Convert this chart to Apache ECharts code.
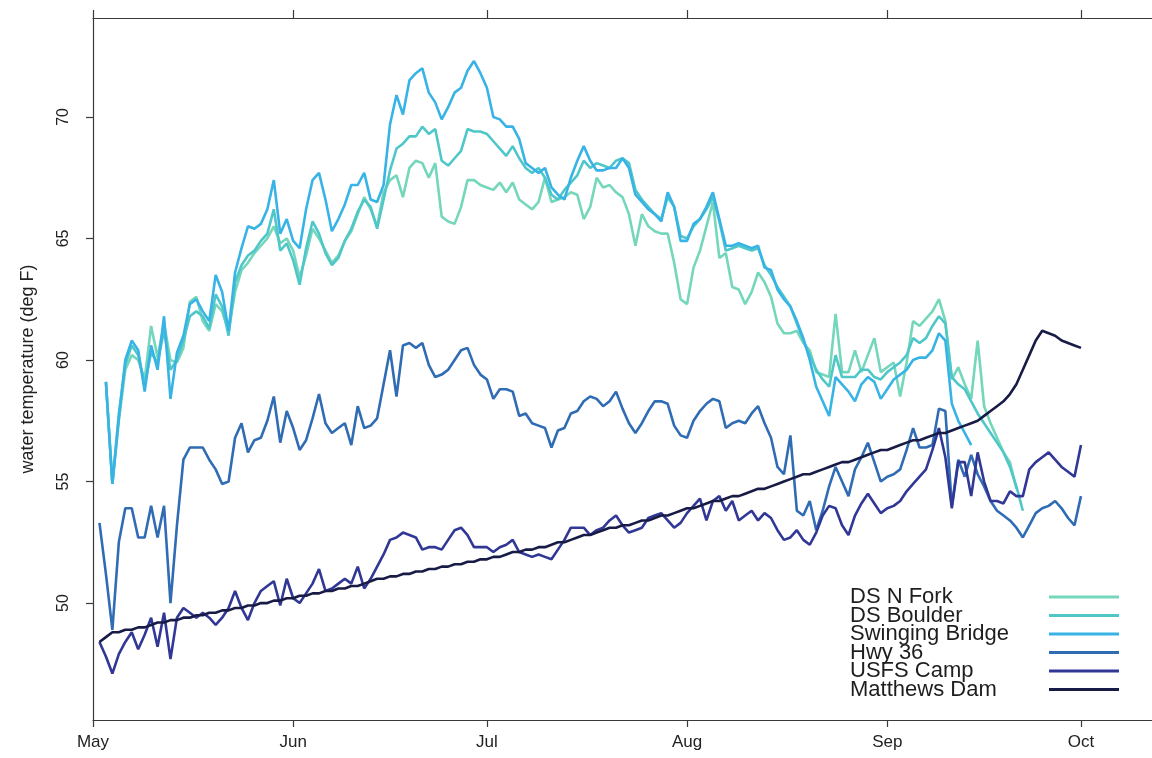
<!DOCTYPE html>
<html><head><meta charset="utf-8">
<script src="https://cdn.jsdelivr.net/npm/echarts@6/dist/echarts.min.js"></script>
<style>html,body{margin:0;padding:0;background:#fff}#c{width:1152px;height:758px}</style>
</head><body><div id="c"></div>
<script>
const monthLabels = ['May','Jun','Jul','Aug','Sep','Oct'];
const seriesNames = ['DS N Fork','DS Boulder','Swinging Bridge','Hwy 36','USFS Camp','Matthews Dam'];
const seriesColors = ['#74d6ba','#4fc7c9','#38b3e6','#2f6cb4','#303795','#181b46'];
const yTicks = [50,55,60,65,70];

// day index 0 = May 1
const nfStart = 2;
const nfValues = [59.1,54.9,57.5,59.6,60.2,60.0,59.2,61.4,
 60.1,61.5,60.0,59.9,60.5,62.4,62.6,61.6,61.2,62.3,
 62.0,61.2,62.8,63.7,64.0,64.4,64.7,65.0,65.5,64.8,
 65.0,64.5,63.4,64.3,65.4,65.0,64.5,64.0,64.3,64.9,
 65.3,66.0,66.7,66.2,65.5,66.9,67.4,67.6,66.7,67.9,
 68.2,68.1,67.5,68.1,65.9,65.7,65.6,66.3,67.4,67.4,
 67.2,67.1,67.0,67.3,66.9,67.3,66.6,66.4,66.2,66.5,
 67.5,66.5,66.6,66.7,66.9,66.8,65.8,66.3,67.5,67.1,
 67.2,66.9,66.7,66.0,64.7,66.0,65.5,65.3,65.2,65.2,
 64.0,62.5,62.3,63.8,64.5,65.5,66.5,64.2,64.4,63.0,
 62.9,62.3,62.8,63.6,63.2,62.6,61.5,61.1,61.1,61.2,
 60.7,60.4,59.5,59.4,59.3,61.9,59.5,59.5,60.4,59.5,
 60.2,60.9,59.5,59.7,59.9,58.5,59.9,61.6,61.4,61.7,
 62.0,62.5,61.6,59.2,59.7,59.0,58.4,60.8,58.1,57.4,
 56.8,56.2,55.8,54.7];

const dbStart = 2;
const dbValues = [59.1,54.9,57.8,59.8,60.6,60.2,59.0,60.3,
 59.9,61.2,59.6,60.0,60.8,61.8,62.0,61.8,61.3,62.7,
 62.2,61.0,63.2,63.9,64.3,64.5,64.9,65.2,66.2,64.5,
 64.8,64.1,63.1,64.6,65.7,65.2,64.4,63.9,64.2,64.9,
 65.4,66.1,66.6,66.3,65.4,66.6,67.8,68.7,68.9,69.2,
 69.2,69.6,69.3,69.5,68.2,68.0,68.3,68.6,69.5,69.4,
 69.4,69.3,69.0,68.7,68.4,68.8,68.3,67.9,67.7,67.9,
 67.5,66.8,66.6,67.0,67.3,67.6,68.2,67.9,68.1,68.0,
 67.9,68.2,68.3,68.1,67.0,66.6,66.3,66.0,65.8,66.7,
 66.3,65.1,65.0,65.5,65.8,66.2,66.7,65.7,64.5,64.6,
 64.7,64.6,64.5,64.6,63.9,63.5,63.0,62.6,62.2,61.5,
 60.8,60.2,59.6,59.2,58.9,60.2,59.3,59.3,59.3,59.6,
 59.6,59.3,59.2,59.5,59.7,59.9,60.2,60.9,60.7,60.9,
 61.4,61.8,61.5,59.3,59.0,58.8,58.3,57.8,57.4,57.0,
 56.6,56.2,55.6,54.8,53.8];

const sbStart = 2;
const sbValues = [59.1,54.9,57.6,60.0,60.8,60.4,58.7,60.6,
 59.6,61.8,58.4,60.3,61.0,62.3,62.5,62.0,61.6,63.5,
 62.8,61.2,63.6,64.6,65.5,65.4,65.6,66.2,67.4,65.2,
 65.8,64.9,64.6,66.2,67.4,67.7,66.6,65.3,65.8,66.4,
 67.2,67.2,67.7,66.6,66.5,67.2,69.7,70.9,70.1,71.5,
 71.8,72.0,71.0,70.6,69.9,70.4,71.0,71.2,71.9,72.3,
 71.8,71.2,70.0,69.9,69.6,69.6,69.1,68.1,67.9,67.7,
 67.9,67.1,66.8,66.6,67.5,68.2,68.8,68.2,67.8,67.8,
 67.9,67.9,68.3,67.9,66.8,66.5,66.2,66.0,65.7,66.9,
 66.3,64.9,64.9,65.6,65.8,66.3,66.9,65.8,64.7,64.7,
 64.8,64.7,64.6,64.7,63.8,63.7,62.9,62.5,62.2,61.6,
 60.9,60.0,58.9,58.3,57.7,59.3,59.0,58.7,58.3,59.0,
 59.3,59.1,58.4,58.8,59.2,59.4,59.6,60.0,60.1,60.1,
 60.4,61.1,60.8,58.2,57.5,57.0,56.5];

const hwyStart = 1;
const hwyValues = [53.3,51.2,48.9,52.5,53.9,53.9,52.7,52.7,54.0,
 52.7,54.0,50.0,53.2,55.9,56.4,56.4,56.4,55.9,55.5,
 54.9,55.0,56.8,57.4,56.2,56.7,56.8,57.5,58.5,56.6,
 57.9,57.2,56.3,56.7,57.6,58.6,57.4,57.0,57.2,57.4,
 56.5,58.1,57.2,57.3,57.6,59.0,60.4,58.5,60.6,60.7,
 60.5,60.7,59.8,59.3,59.4,59.6,60.0,60.4,60.5,59.8,
 59.4,59.2,58.4,58.8,58.8,58.7,57.7,57.8,57.4,57.3,
 57.2,56.4,57.1,57.2,57.8,57.9,58.3,58.5,58.4,58.1,
 58.3,58.7,58.0,57.4,57.0,57.4,57.9,58.3,58.3,58.2,
 57.3,56.9,56.8,57.5,57.9,58.2,58.4,58.3,57.2,57.4,
 57.5,57.4,57.8,58.1,57.4,56.8,55.6,55.3,56.9,53.8,
 53.6,54.2,53.0,53.8,54.8,55.6,55.0,54.4,55.5,56.0,
 56.6,55.8,55.0,55.2,55.3,55.5,56.3,57.2,56.4,56.4,
 56.5,58.0,57.9,54.0,55.9,55.2,56.1,55.3,54.8,54.2,
 53.8,53.6,53.4,53.1,52.7,53.2,53.7,53.9,54.0,54.2,
 53.9,53.5,53.2,54.4];

const usfsStart = 1;
const usfsValues = [48.4,47.8,47.1,47.9,48.4,48.8,48.1,48.7,49.4,
 48.2,49.6,47.7,49.4,49.8,49.6,49.4,49.6,49.4,49.1,
 49.4,49.8,50.5,49.8,49.3,50.0,50.5,50.7,50.9,49.9,
 51.0,50.2,50.0,50.4,50.8,51.4,50.5,50.6,50.8,51.0,
 50.8,51.5,50.6,51.0,51.5,52.0,52.6,52.7,52.9,52.8,
 52.7,52.2,52.3,52.3,52.2,52.6,53.0,53.1,52.8,52.3,
 52.3,52.3,52.1,52.3,52.4,52.6,52.1,52.0,51.9,52.0,
 51.9,51.8,52.2,52.6,53.1,53.1,53.1,52.8,53.0,53.1,
 53.4,53.6,53.2,52.9,53.0,53.1,53.5,53.6,53.7,53.4,
 53.1,53.3,53.7,54.0,54.3,53.4,54.2,54.4,53.8,54.2,
 53.4,53.6,53.8,53.4,53.7,53.5,53.0,52.6,52.7,53.0,
 52.6,52.4,52.9,53.6,54.0,53.9,53.2,52.8,53.6,54.1,
 54.5,54.1,53.7,53.9,54.0,54.2,54.6,54.9,55.2,55.5,
 56.3,57.2,56.0,53.9,55.8,55.8,54.4,56.2,55.0,54.2,
 54.2,54.1,54.6,54.4,54.4,55.5,55.8,56.0,56.2,55.9,
 55.6,55.4,55.2,56.5];

const damStart = 1;
const damValues = [48.4,48.6,48.8,48.8,48.9,48.9,49.0,49.0,49.1,
 49.2,49.2,49.3,49.3,49.4,49.4,49.5,49.5,49.6,49.6,
 49.7,49.7,49.8,49.8,49.9,49.9,50.0,50.0,50.1,50.1,
 50.2,50.2,50.3,50.3,50.4,50.4,50.5,50.5,50.6,50.6,
 50.7,50.7,50.8,50.9,51.0,51.0,51.1,51.1,51.2,51.2,
 51.3,51.3,51.4,51.4,51.5,51.5,51.6,51.6,51.7,51.7,
 51.8,51.8,51.9,51.9,52.0,52.1,52.1,52.2,52.2,52.3,
 52.3,52.4,52.5,52.5,52.6,52.7,52.8,52.8,52.9,53.0,
 53.1,53.1,53.2,53.2,53.3,53.4,53.4,53.5,53.6,53.6,
 53.7,53.8,53.9,53.9,54.0,54.1,54.2,54.2,54.3,54.4,
 54.4,54.5,54.6,54.7,54.7,54.8,54.9,55.0,55.1,55.2,
 55.3,55.3,55.4,55.5,55.6,55.7,55.8,55.8,55.9,56.0,
 56.1,56.2,56.3,56.3,56.4,56.5,56.6,56.7,56.7,56.8,
 56.9,57.0,57.0,57.1,57.2,57.3,57.4,57.5,57.7,57.9,
 58.1,58.3,58.6,59.0,59.6,60.2,60.8,61.2,61.1,61.0,
 60.8,60.7,60.6,60.5];

// daily category axis, May 1 .. Oct 12
const dayCount = 165;
const dates = [];
const t0 = Date.UTC(2012, 4, 1);
for (let i = 0; i < dayCount; i++) dates.push(new Date(t0 + i * 86400000).toISOString().slice(0, 10));

function place(start, vals) {
  const arr = new Array(dayCount).fill(null);
  vals.forEach((v, i) => { arr[start + i] = v; });
  return arr;
}
const seriesData = [
  place(nfStart, nfValues), place(dbStart, dbValues), place(sbStart, sbValues),
  place(hwyStart, hwyValues), place(usfsStart, usfsValues), place(damStart, damValues)
];

const isMonthStart = (idx, val) => String(val).slice(8) === '01';
const FONT = 'Liberation Sans, Arial, sans-serif';
const axisColor = '#3a3a3a';

const chart = echarts.init(document.getElementById('c'));
chart.setOption({
  animation: false,
  backgroundColor: '#fff',
  grid: { left: 93, right: 0, top: 18, bottom: 38 },
  xAxis: [{
    type: 'category', data: dates, boundaryGap: false, position: 'bottom',
    axisLine: { lineStyle: { color: axisColor, width: 1.2 } },
    axisTick: { interval: isMonthStart, length: 7, lineStyle: { color: axisColor, width: 1.2 } },
    axisLabel: { interval: isMonthStart, margin: 14, fontSize: 17, fontFamily: FONT, color: '#222',
      formatter: v => monthLabels[Number(v.slice(5, 7)) - 5] },
    splitLine: { show: false }
  }, {
    type: 'category', data: dates, boundaryGap: false, position: 'top',
    axisLine: { lineStyle: { color: axisColor, width: 1.2 } },
    axisTick: { interval: isMonthStart, length: 8, lineStyle: { color: axisColor, width: 1.2 } },
    axisLabel: { show: false },
    splitLine: { show: false }
  }],
  yAxis: {
    type: 'value', min: 45.19, max: 74.07,
    name: 'water temperature (deg F)', nameLocation: 'middle', nameGap: 56,
    nameTextStyle: { fontSize: 18, fontFamily: FONT, color: '#222' },
    axisLine: { show: true, lineStyle: { color: axisColor, width: 1.2 } },
    axisTick: { show: true, customValues: yTicks, length: 7, lineStyle: { color: axisColor, width: 1.2 } },
    axisLabel: { customValues: yTicks, rotate: 90, margin: 21, fontSize: 16, fontFamily: FONT, color: '#222' },
    splitLine: { show: false }
  },
  legend: {
    orient: 'vertical', left: 845, top: 581, itemGap: -3.5, itemWidth: 70, itemHeight: 3, align: 'right',
    icon: 'rect',
    data: seriesNames,
    formatter: n => '{a|' + n + '}',
    textStyle: { lineHeight: 21.5, rich: { a: { width: 194, align: 'left', fontSize: 22, lineHeight: 21.5, fontFamily: FONT, color: '#1e1e1e' } } }
  },
  series: seriesNames.map((n, i) => ({
    name: n, type: 'line', data: seriesData[i], xAxisIndex: 0,
    symbol: 'none', showSymbol: false, connectNulls: false,
    lineStyle: { width: 2.6, color: seriesColors[i] }, itemStyle: { color: seriesColors[i] }
  }))
});
</script></body></html>
